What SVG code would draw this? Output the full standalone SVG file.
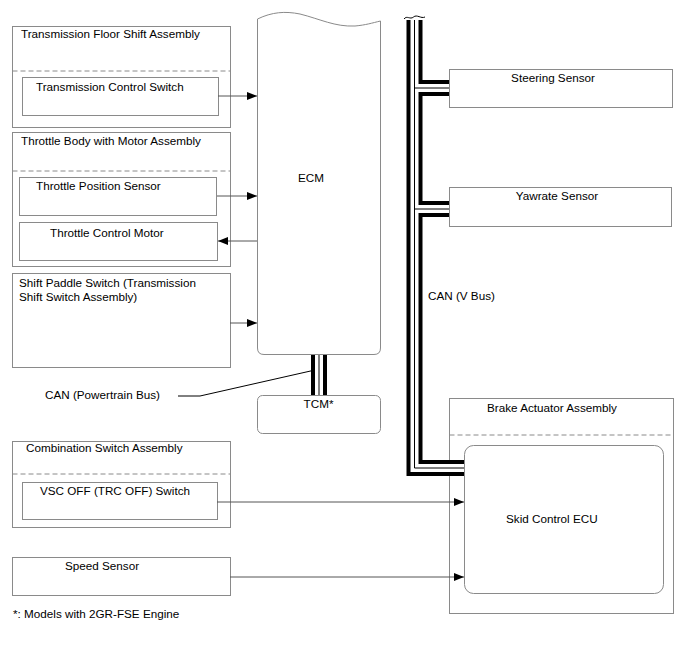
<svg xmlns="http://www.w3.org/2000/svg" width="688" height="658" viewBox="0 0 688 658">
<defs>
<style>
text{font-family:"Liberation Sans",Arial,sans-serif;font-size:11.7px;fill:#000}
.box{fill:#fff;stroke:#8a8a8a;stroke-width:1}
.dash{stroke:#8a8a8a;stroke-width:1;stroke-dasharray:5,3;fill:none}
.wire{stroke:#555;stroke-width:1;fill:none}
.busB{stroke:#000;stroke-width:16;fill:none;stroke-linejoin:miter}
.busW{stroke:#fff;stroke-width:8;fill:none;stroke-linejoin:miter}
.busT{stroke:#000;stroke-width:1;fill:none}
</style>
<marker id="arr" viewBox="0 0 10 8" refX="10" refY="4" markerWidth="10" markerHeight="8" markerUnits="userSpaceOnUse" orient="auto">
<path d="M0,0 L10,4 L0,8 z" fill="#000"/>
</marker>
</defs>
<rect width="688" height="658" fill="#fff"/>

<g id="transmission-floor-shift">
<rect class="box" x="12.5" y="26.5" width="218" height="101"/>
<line class="dash" x1="12.5" y1="71" x2="230.5" y2="71"/>
<text x="21" y="38">Transmission Floor Shift Assembly</text>
<g id="transmission-control-switch">
<rect class="box" x="22.5" y="77.5" width="196" height="38"/>
<text x="36" y="91">Transmission Control Switch</text>
</g>
</g>

<g id="throttle-body">
<rect class="box" x="12.5" y="132.5" width="218" height="134"/>
<line class="dash" x1="12.5" y1="171" x2="230.5" y2="171"/>
<text x="21" y="145">Throttle Body with Motor Assembly</text>
<g id="throttle-position-sensor">
<rect class="box" x="19.5" y="177.5" width="197" height="38"/>
<text x="36" y="190">Throttle Position Sensor</text>
</g>
<g id="throttle-control-motor">
<rect class="box" x="19.5" y="222.5" width="198" height="38"/>
<text x="50" y="237">Throttle Control Motor</text>
</g>
</g>

<g id="shift-paddle-switch">
<rect class="box" x="12.5" y="273.5" width="218" height="94"/>
<text x="19" y="287">Shift Paddle Switch (Transmission</text>
<text x="19" y="301">Shift Switch Assembly)</text>
</g>

<g id="ecm">
<path class="box" d="M257.5,19 C272,12 285,11 300,14 C320,19 335,27 355,26 C366,25 372,23 380.5,21 V348 Q380.5,354.5 374,354.5 H264 Q257.5,354.5 257.5,348 Z"/>
<text x="298" y="182">ECM</text>
</g>

<g id="tcm">
<rect class="box" x="257.5" y="395.5" width="123" height="38" rx="5"/>
<text x="318.5" y="408" text-anchor="middle">TCM*</text>
</g>
<text x="45" y="399">CAN (Powertrain Bus)</text>

<g id="steering-sensor">
<rect class="box" x="449.5" y="69.5" width="223" height="38"/>
<text x="553" y="82" text-anchor="middle">Steering Sensor</text>
</g>

<g id="yawrate-sensor">
<rect class="box" x="449.5" y="187.5" width="222" height="39"/>
<text x="557" y="200" text-anchor="middle">Yawrate Sensor</text>
</g>

<text x="428" y="300">CAN (V Bus)</text>

<g id="brake-actuator">
<rect class="box" x="449.5" y="398.5" width="224" height="215"/>
<line class="dash" x1="449.5" y1="435" x2="673.5" y2="435"/>
<text x="487" y="412">Brake Actuator Assembly</text>
<g id="skid-control-ecu">
<rect class="box" x="464.5" y="445.5" width="199" height="148" rx="9"/>
<text x="506" y="523">Skid Control ECU</text>
</g>
</g>

<g id="combination-switch">
<rect class="box" x="12.5" y="441.5" width="218" height="86"/>
<line class="dash" x1="12.5" y1="474" x2="230.5" y2="474"/>
<text x="26" y="452">Combination Switch Assembly</text>
<g id="vsc-off-switch">
<rect class="box" x="22.5" y="482.5" width="195" height="37"/>
<text x="40" y="495">VSC OFF (TRC OFF) Switch</text>
</g>
</g>

<g id="speed-sensor">
<rect class="box" x="12.5" y="557.5" width="218" height="38"/>
<text x="65" y="570">Speed Sensor</text>
</g>

<text x="13" y="618">*: Models with 2GR-FSE Engine</text>

<g id="connectors">
<g id="can-v-bus">
<path class="busB" d="M414.5,20 V468 H464 M414.5,88 H449 M414.5,209 H449"/>
<path class="busW" d="M414.5,18 V468 H464 M414.5,88 H449 M414.5,209 H449"/>
<path class="busT" d="M414.5,20 V468 H464 M414.5,88 H449 M414.5,209 H449"/>
<path d="M404,19 C407,15 410,20 413.5,17 C417,14 421,19 425,17" stroke="#000" stroke-width="1" fill="none"/>
</g>
<g id="can-pt-bus">
<path class="busB" d="M319,355 V395"/>
<path class="busW" d="M319,355 V395"/>
<path class="busT" d="M319,355 V395"/>
</g>
<path d="M178,396 H200 L315,370" stroke="#000" stroke-width="1" fill="none"/>
<path class="wire" d="M218,96 H257" marker-end="url(#arr)"/>
<path class="wire" d="M217,196 H257" marker-end="url(#arr)"/>
<path class="wire" d="M257,241 H218" marker-end="url(#arr)"/>
<path class="wire" d="M230,323 H257" marker-end="url(#arr)"/>
<path class="wire" d="M217,502 H464" marker-end="url(#arr)"/>
<path class="wire" d="M230,577 H464" marker-end="url(#arr)"/>
</g>
</svg>
